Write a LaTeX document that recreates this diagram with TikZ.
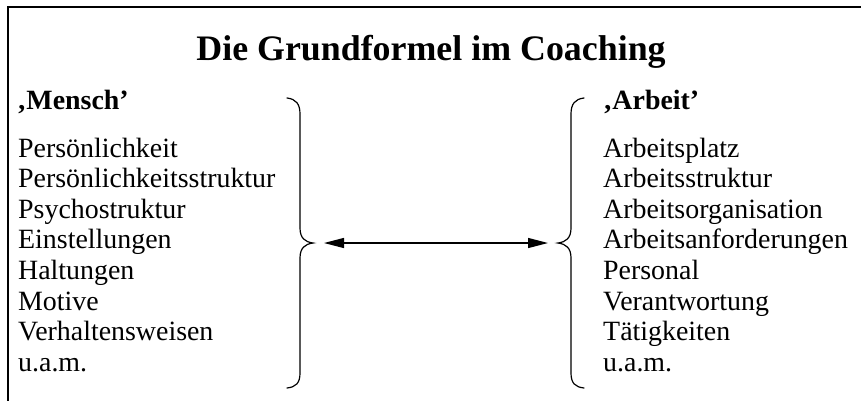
\documentclass[tikz,border=0pt]{standalone}
\usepackage{fontspec}
\setmainfont{Liberation Serif}
\usetikzlibrary{arrows.meta}
\tikzset{
  titletext/.style={inner sep=0pt, anchor=base, font=\bfseries\fontsize{36}{40}\selectfont},
  headtext/.style={inner sep=0pt, anchor=base west, font=\bfseries\fontsize{28}{31}\selectfont},
  itemtext/.style={inner sep=0pt, anchor=base west, font=\fontsize{28}{31}\selectfont},
  bracepath/.style={line width=1.2bp, line cap=round},
  link/.style={line width=1.3bp, {Triangle[length=20bp,width=10bp]}-{Triangle[length=20bp,width=10bp]}},
  frame/.style={line width=2bp}
}
\begin{document}
\begin{tikzpicture}[x=1bp,y=-1bp]
\useasboundingbox (0,0) rectangle (861,400);
\draw[frame] (8,410) -- (8,7) -- (870,7);
\node[titletext] (title) at (431,60) {Die Grundformel im Coaching};
\node[headtext] (mensch) at (17,109) {‚Mensch’};
\node[headtext] (arbeit) at (603,109) {‚Arbeit’};
\foreach \t [count=\i from 0] in {Persönlichkeit,Persönlichkeitsstruktur,Psychostruktur,Einstellungen,Haltungen,Motive,Verhaltensweisen,u.a.m.}
  \node[itemtext] (m\i) at (18,157+30.6*\i) {\t};
\foreach \t [count=\i from 0] in {Arbeitsplatz,Arbeitsstruktur,Arbeitsorganisation,Arbeitsanforderungen,Personal,Verantwortung,Tätigkeiten,u.a.m.}
  \node[itemtext] (a\i) at (603,157+30.6*\i) {\t};
% left brace
\draw[bracepath] (287,98) .. controls (296,99) and (300,104) .. (300,114) -- (300,228)
  .. controls (300,238) and (305,242) .. (313,243)
  .. controls (305,244) and (300,248) .. (300,258) -- (300,373)
  .. controls (300,383) and (296,387) .. (287,388);
% right brace
\draw[bracepath] (584,98) .. controls (575,99) and (571,104) .. (571,114) -- (571,228)
  .. controls (571,238) and (566,242) .. (558,243)
  .. controls (566,244) and (571,248) .. (571,258) -- (571,373)
  .. controls (571,383) and (575,387) .. (584,388);
\coordinate (lefttip) at (324,243);
\coordinate (righttip) at (548,243);
\draw[link] (lefttip) -- (righttip);
\end{tikzpicture}
\end{document}
